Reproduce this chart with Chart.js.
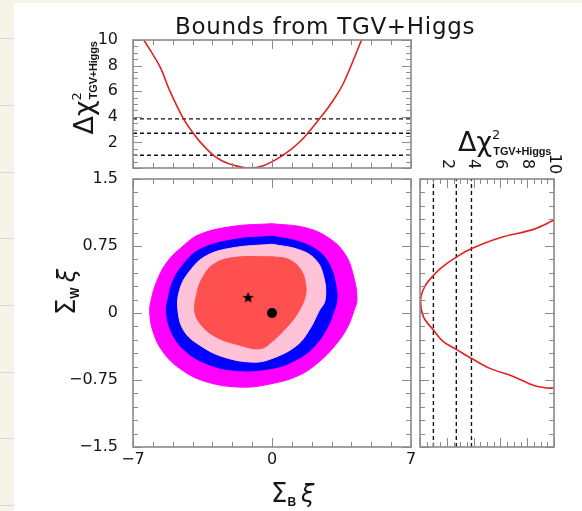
<!DOCTYPE html>
<html>
<head>
<meta charset="utf-8">
<script src="https://cdn.jsdelivr.net/npm/chart.js@4.4.1/dist/chart.umd.min.js"></script>
<style>
    body { margin: 0; width: 582px; height: 511px; overflow: hidden; background: #fff; position: relative; font-family: "DejaVu Sans", sans-serif; color: #161616; }
    #leftStrip { position: absolute; left: 0; top: 0; width: 14px; height: 511px; background: #f6f4e9; }
    #topStrip { position: absolute; left: 0; top: 0; width: 582px; height: 3px; background: #f6f4e9; }
    .rule { position: absolute; left: 0; width: 14px; height: 1px; background: #d6d6d6; }
    canvas { position: absolute; left: 0; top: 0; }
    .lbl { position: absolute; white-space: nowrap; line-height: 30px; }
    .rot { transform: translate(-50%, -50%) rotate(-90deg); }
    .big { font-size: 27px; }
    .sup { font-size: 13px; vertical-align: 12px; margin-right: -7px; }
    .sub { font: bold 11px "Liberation Sans", sans-serif; vertical-align: -4px; letter-spacing: -0.2px; }
    .sig { font-size: 26px; }
    .sigSub { font: bold 12px "Liberation Sans", sans-serif; vertical-align: -4px; margin-right: 5px; }
    .xi { font-size: 24px; font-style: italic; }
</style>
</head>
<body>
<div id="leftStrip"></div>
<div id="topStrip"></div>
<div class="rule" style="top:38px"></div>
<div class="rule" style="top:105px"></div>
<div class="rule" style="top:172px"></div>
<div class="rule" style="top:238px"></div>
<div class="rule" style="top:305px"></div>
<div class="rule" style="top:372px"></div>
<div class="rule" style="top:438px"></div>
<div class="rule" style="top:505px"></div>

<canvas id="topChart" width="582" height="511"></canvas>
<canvas id="mainChart" width="582" height="511"></canvas>
<canvas id="sideChart" width="582" height="511"></canvas>

<div class="lbl" style="left:175px;top:11px;font-size:23px;letter-spacing:0.7px">Bounds from TGV+Higgs</div>
<div class="lbl rot" style="left:82px;top:88px"><span class="big">&Delta;&chi;</span><span class="sup">2</span><span class="sub">TGV+Higgs</span></div>
<div class="lbl" style="left:458px;top:120px"><span class="big">&Delta;&chi;</span><span class="sup">2</span><span class="sub">TGV+Higgs</span></div>
<div class="lbl rot" style="left:68px;top:292px"><span class="sig">&Sigma;</span><span class="sigSub">W</span><span class="xi">&xi;</span></div>
<div class="lbl" style="left:271px;top:478px"><span class="sig">&Sigma;</span><span class="sigSub">B</span><span class="xi">&xi;</span></div>

<script>
// top panel: delta chi2 vs Sigma_B xi
var topSigmaB = [-6.45, -5.64, -5.14, -4.47, -3.96, -3.6, -2.96, -2.5, -1.95, -1.2, -0.4, 0.56, 1.4, 2.41, 3.0, 3.59, 4.51];
var topChi2 = [10, 7.9, 6.0, 3.88, 2.71, 2.0, 1.0, 0.55, 0.23, 0.0, 0.2, 1.0, 2.05, 3.88, 5.1, 6.6, 10];

// side panel: delta chi2 vs Sigma_W xi
var sideChi2 = [10, 8.46, 5.97, 3.86, 2.74, 1.74, 1.0, 0.37, 0.05, 0.25, 1.0, 1.74, 2.74, 3.86, 5.22, 6.96, 8.46, 9.45, 10];
var sideSigmaW = [1.04, 0.936, 0.843, 0.722, 0.629, 0.524, 0.42, 0.30, 0.15, -0.04, -0.19, -0.32, -0.41, -0.51, -0.62, -0.71, -0.81, -0.84, -0.84];

// dashed delta chi2 levels
var chi2Levels = [1.0, 2.71, 3.84];

// allowed regions (Sigma_B xi, Sigma_W xi), outermost first, clockwise
var magentaB = [0, 1.68, 2.86, 3.69, 4.11, 4.28, 4.11, 3.78, 3.19, 2.35, 1.34, 0, -1.46, -3.31, -4.65, -5.49, -5.99, -6.16, -6.08, -5.83, -5.32, -4.48, -3.64, -1.96, 0];
var magentaW = [1.0, 0.955, 0.84, 0.655, 0.41, 0.15, 0.015, -0.17, -0.36, -0.55, -0.70, -0.79, -0.83, -0.77, -0.62, -0.435, -0.21, 0.015, 0.15, 0.34, 0.56, 0.75, 0.88, 0.97, 1.0];
var blueB = [0, 1.34, 2.35, 2.94, 3.22, 3.27, 3.11, 2.77, 2.18, 1.34, 0, -1.96, -3.47, -4.48, -5.07, -5.32, -5.24, -4.99, -4.48, -3.64, -1.96, 0];
var blueW = [0.86, 0.80, 0.69, 0.52, 0.30, 0.15, 0.015, -0.17, -0.36, -0.51, -0.62, -0.64, -0.55, -0.40, -0.21, 0.015, 0.15, 0.355, 0.54, 0.71, 0.82, 0.86];
var pinkB = [0, 1.34, 2.18, 2.60, 2.68, 2.35, 1.93, 1.26, 0, -0.96, -2.47, -3.64, -4.40, -4.73, -4.65, -4.14, -3.31, -1.96, 0];
var pinkW = [0.77, 0.71, 0.60, 0.41, 0.15, 0.015, -0.17, -0.36, -0.51, -0.55, -0.49, -0.36, -0.21, 0.015, 0.26, 0.47, 0.64, 0.73, 0.77];
var redB = [0, 0.84, 1.43, 1.68, 1.68, 1.34, 0.84, 0, -0.6, -1.63, -2.81, -3.56, -3.89, -3.81, -3.56, -2.97, -1.96, 0];
var redW = [0.63, 0.60, 0.49, 0.34, 0.19, 0.015, -0.135, -0.32, -0.40, -0.36, -0.27, -0.135, 0.015, 0.19, 0.37, 0.54, 0.62, 0.63];

// best fit (star) and SM (dot)
var bestFitB = [-1.2];
var bestFitW = [0.17];
var smB = [0];
var smW = [0];

// tick labels
var topYTicks = [2, 4, 6, 8, 10];
var mainXTicks = [-7, 0, 7];
var mainYTicks = [1.5, 0.75, 0, -0.75, -1.5];
var sideXTicks = [2, 4, 6, 8, 10];

var AXIS_FONT = { family: '"DejaVu Sans", sans-serif', size: 16 };
var TEXT_COLOR = '#161616';

function pts(xs, ys) {
    return xs.map(function (x, i) { return { x: x, y: ys[i] }; });
}

function minus(v) {
    return String(v).replace('-', '\u2212');
}

function fixedTicks(list) {
    return function (scale) {
        scale.ticks = list.map(function (v) { return { value: v }; });
    };
}

/* frame and inward tick marks on all four sides */
var frameTicks = {
    id: 'frameTicks',
    afterDatasetsDraw: function (chart, args, opts) {
        var ctx = chart.ctx;
        var a = chart.chartArea;
        ctx.save();
        ctx.strokeStyle = '#8a8a8a';
        ctx.lineWidth = 1;

        function side(scale, step, major, horizontal) {
            var n = Math.round((scale.max - scale.min) / step);
            for (var i = 0; i <= n; i++) {
                var v = scale.min + i * step;
                var p = Math.round(scale.getPixelForValue(v)) + 0.5;
                var r = v / major;
                var len = Math.abs(r - Math.round(r)) < 1e-6 ? 9 : 5;
                ctx.beginPath();
                if (horizontal) {
                    ctx.moveTo(p, a.bottom); ctx.lineTo(p, a.bottom - len);
                    ctx.moveTo(p, a.top); ctx.lineTo(p, a.top + len);
                } else {
                    ctx.moveTo(a.left, p); ctx.lineTo(a.left + len, p);
                    ctx.moveTo(a.right, p); ctx.lineTo(a.right - len, p);
                }
                ctx.stroke();
            }
        }
        side(chart.scales.x, opts.xStep, opts.xMajor, true);
        side(chart.scales.y, opts.yStep, opts.yMajor, false);

        ctx.lineWidth = 1.6;
        ctx.strokeRect(a.left, a.top, a.right - a.left, a.bottom - a.top);
        ctx.restore();
    }
};

/* rotated tick labels above the side panel */
var sideLabels = {
    id: 'sideLabels',
    afterDraw: function (chart) {
        var ctx = chart.ctx;
        ctx.save();
        ctx.font = '16px "DejaVu Sans", sans-serif';
        ctx.fillStyle = TEXT_COLOR;
        ctx.textAlign = 'center';
        ctx.textBaseline = 'middle';
        sideXTicks.forEach(function (v) {
            ctx.save();
            ctx.translate(chart.scales.x.getPixelForValue(v), chart.chartArea.top - 15);
            ctx.rotate(Math.PI / 2);
            ctx.fillText(String(v), 0, 0);
            ctx.restore();
        });
        ctx.restore();
    }
};

function starImage(r) {
    var c = document.createElement('canvas');
    c.width = c.height = r * 2 + 2;
    var g = c.getContext('2d');
    g.beginPath();
    for (var i = 0; i < 10; i++) {
        var ang = -Math.PI / 2 + i * Math.PI / 5;
        var rr = i % 2 ? r * 0.42 : r;
        g.lineTo(c.width / 2 + rr * Math.cos(ang), c.height / 2 + rr * Math.sin(ang));
    }
    g.closePath();
    g.fillStyle = '#000';
    g.fill();
    return c;
}

function region(xs, ys, color, order) {
    return {
        data: pts(xs, ys),
        showLine: true,
        fill: 'shape',
        tension: 0.4,
        backgroundColor: color,
        borderColor: color,
        borderWidth: 1,
        pointRadius: 0,
        order: order
    };
}

function curve(xs, ys) {
    return {
        data: pts(xs, ys),
        showLine: true,
        tension: 0.35,
        borderColor: '#e02222',
        borderWidth: 1.6,
        pointRadius: 0,
        order: 0
    };
}

function dashed(data) {
    return {
        data: data,
        showLine: true,
        borderColor: '#111',
        borderWidth: 1.4,
        borderDash: [4, 3],
        pointRadius: 0,
        order: 1
    };
}

var baseOptions = {
    responsive: false,
    animation: false,
    events: [],
    plugins: { legend: { display: false }, tooltip: { enabled: false } }
};

function opts(extra) {
    return Object.assign({}, baseOptions, extra);
}

// top panel
new Chart(document.getElementById('topChart'), {
    type: 'scatter',
    data: {
        datasets: [curve(topSigmaB, topChi2)].concat(chi2Levels.map(function (v) {
            return dashed([{ x: -7, y: v }, { x: 7, y: v }]);
        }))
    },
    options: opts({
        layout: { padding: { left: 0, top: 40, right: 171, bottom: 343 } },
        plugins: Object.assign({}, baseOptions.plugins, {
            frameTicks: { xStep: 1, xMajor: 7, yStep: 0.5, yMajor: 2 }
        }),
        scales: {
            x: { type: 'linear', min: -7, max: 7, display: false },
            y: {
                type: 'linear', min: 0, max: 10,
                grid: { display: false, drawTicks: false },
                border: { display: false },
                afterBuildTicks: fixedTicks(topYTicks),
                afterFit: function (s) { s.width = 133; },
                ticks: { font: AXIS_FONT, color: TEXT_COLOR, padding: 15 }
            }
        }
    }),
    plugins: [frameTicks]
});

// main panel
new Chart(document.getElementById('mainChart'), {
    type: 'scatter',
    data: {
        datasets: [
            {
                data: pts(bestFitB, bestFitW),
                pointStyle: starImage(6),
                pointRadius: 6,
                order: 0
            },
            {
                data: pts(smB, smW),
                pointStyle: 'circle',
                pointRadius: 5,
                backgroundColor: '#000',
                borderWidth: 0,
                order: 0
            },
            region(redB, redW, '#ff5050', 1),
            region(pinkB, pinkW, '#ffc2d6', 2),
            region(blueB, blueW, '#0000ff', 3),
            region(magentaB, magentaW, '#ff00ff', 4)
        ]
    },
    options: opts({
        layout: { padding: { left: 0, top: 179, right: 171, bottom: 0 } },
        plugins: Object.assign({}, baseOptions.plugins, {
            frameTicks: { xStep: 1, xMajor: 7, yStep: 0.15, yMajor: 0.75 }
        }),
        scales: {
            x: {
                type: 'linear', min: -7, max: 7,
                grid: { display: false, drawTicks: false },
                border: { display: false },
                afterBuildTicks: fixedTicks(mainXTicks),
                afterFit: function (s) { s.height = 64; },
                ticks: { font: AXIS_FONT, color: TEXT_COLOR, padding: 3, maxRotation: 0, callback: minus }
            },
            y: {
                type: 'linear', min: -1.5, max: 1.5,
                grid: { display: false, drawTicks: false },
                border: { display: false },
                afterBuildTicks: fixedTicks(mainYTicks),
                afterFit: function (s) { s.width = 133; },
                ticks: { font: AXIS_FONT, color: TEXT_COLOR, padding: 15, callback: minus }
            }
        }
    }),
    plugins: [frameTicks]
});

// side panel
new Chart(document.getElementById('sideChart'), {
    type: 'scatter',
    data: {
        datasets: [curve(sideChi2, sideSigmaW)].concat(chi2Levels.map(function (v) {
            return dashed([{ x: v, y: -1.5 }, { x: v, y: 1.5 }]);
        }))
    },
    options: opts({
        layout: { padding: { left: 420, top: 179, right: 28, bottom: 64 } },
        plugins: Object.assign({}, baseOptions.plugins, {
            frameTicks: { xStep: 0.5, xMajor: 2, yStep: 0.15, yMajor: 0.75 }
        }),
        scales: {
            x: { type: 'linear', min: 0, max: 10, display: false },
            y: { type: 'linear', min: -1.5, max: 1.5, display: false }
        }
    }),
    plugins: [frameTicks, sideLabels]
});
</script>
</body>
</html>
